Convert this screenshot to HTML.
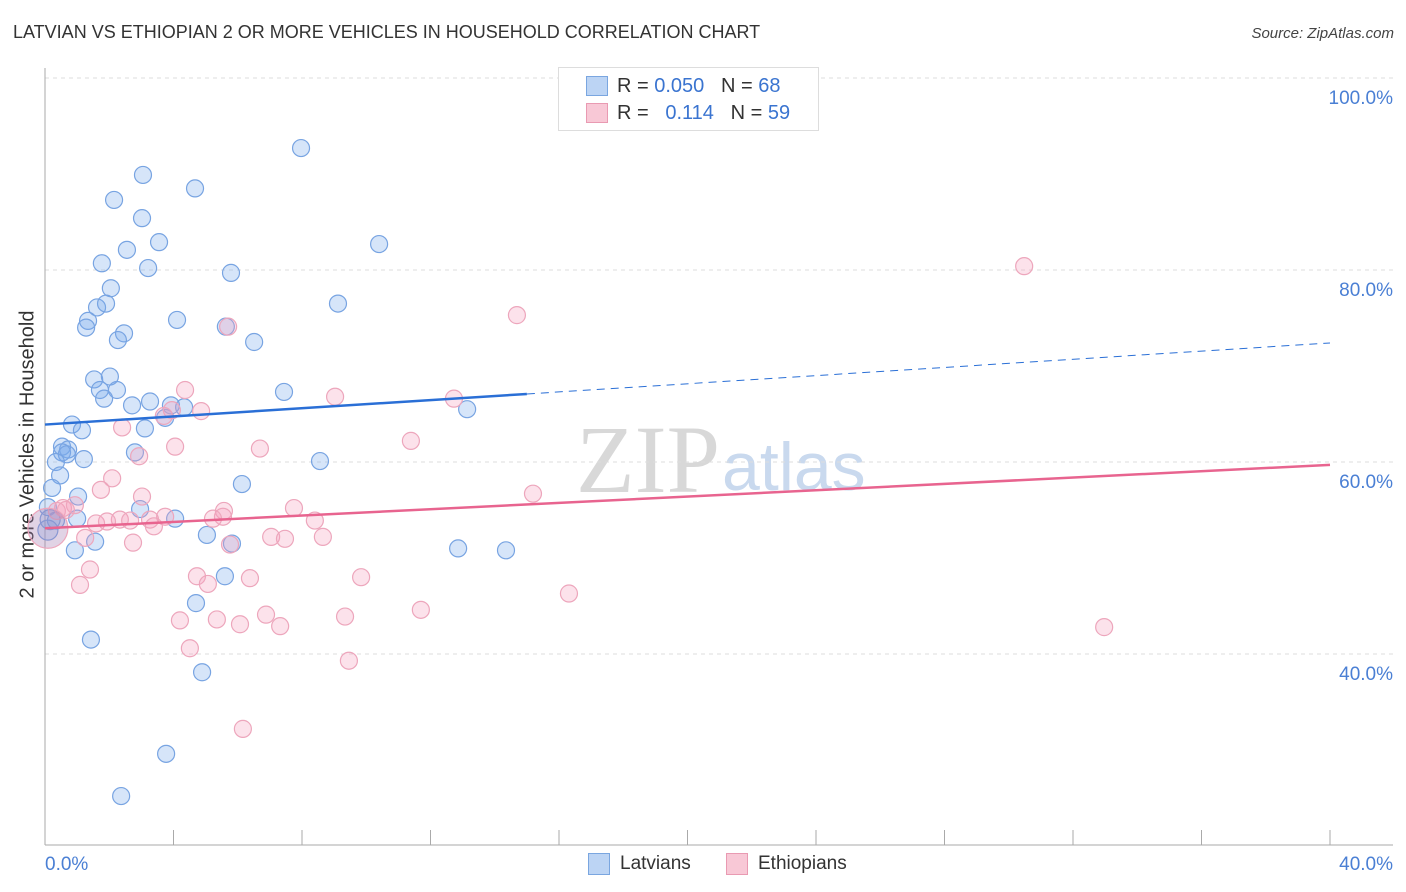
<!DOCTYPE html>
<html><head><meta charset="utf-8"><style>
body{margin:0;background:#fff;font-family:"Liberation Sans",sans-serif;}
#wrap{position:relative;width:1406px;height:892px;overflow:hidden;}
.t{position:absolute;white-space:nowrap;}
</style></head><body><div id="wrap">
<div class="t" style="left:13px;top:22px;font-size:18px;color:#333;">LATVIAN VS ETHIOPIAN 2 OR MORE VEHICLES IN HOUSEHOLD CORRELATION CHART</div>
<div class="t" style="right:12px;top:25px;font-size:15px;color:#444;font-style:italic;">Source: ZipAtlas.com</div>
<div class="t" style="left:-122px;top:443px;font-size:20px;color:#333;transform:rotate(-90deg);width:300px;text-align:center;">2 or more Vehicles in Household</div>
<svg id="plot" width="1406" height="892" style="position:absolute;left:0;top:0">
<text x="720" y="492" font-size="96" font-family="Liberation Serif" fill="#d8d8d8" text-anchor="end">ZIP</text>
<text x="722" y="490" font-size="68" font-family="Liberation Sans" fill="#c9d9ee">atlas</text>
</svg>
<div style="position:absolute;left:558px;top:67px;width:259px;height:62px;border:1px solid #ddd;background:#fff;">
<div style="position:absolute;left:27px;top:8px;width:20px;height:18px;background:#bcd4f4;border:1px solid #7aa6e0;"></div>
<div class="t" style="left:58px;top:7px;font-size:20px;color:#333;">R = <span style="color:#3a74d0">0.050</span>&nbsp;&nbsp;&nbsp;N = <span style="color:#3a74d0">68</span></div>
<div style="position:absolute;left:27px;top:35px;width:20px;height:18px;background:#f8c8d6;border:1px solid #e99ab2;"></div>
<div class="t" style="left:58px;top:34px;font-size:20px;color:#333;">R = &nbsp;&nbsp;<span style="color:#3a74d0">0.114</span>&nbsp;&nbsp;&nbsp;N = <span style="color:#3a74d0">59</span></div>
</div>
<div style="position:absolute;left:588px;top:853px;width:20px;height:20px;background:#bcd4f4;border:1px solid #7aa6e0;"></div>
<div class="t" style="left:620px;top:853px;font-size:19px;color:#333;">Latvians</div>
<div style="position:absolute;left:726px;top:853px;width:20px;height:20px;background:#f8c8d6;border:1px solid #e99ab2;"></div>
<div class="t" style="left:758px;top:853px;font-size:19px;color:#333;">Ethiopians</div>
</div>
<script>
const yTicks=[40,60,80,100];
const yTickLabels=["40.0%","60.0%","80.0%","100.0%"];
const xTickCount=10;
const blueX=[7.97,3.05,4.67,2.15,3.02,3.55,10.40,2.55,1.77,3.21,5.79,2.05,1.62,1.90,9.12,4.11,1.34,1.28,5.63,2.46,2.27,6.51,1.53,2.02,1.71,2.24,1.84,7.44,2.71,3.27,3.92,4.33,3.74,13.14,0.84,1.15,3.11,0.53,0.72,0.53,0.68,2.80,1.21,0.34,8.56,0.47,6.13,0.22,1.03,2.96,0.09,1.00,4.05,0.34,1.56,5.04,5.82,0.93,12.86,14.35,5.60,4.70,1.43,4.89,3.77,2.37,0.09,0.16];
const blueY=[92.7,89.9,88.5,87.3,85.4,82.9,82.7,82.1,80.7,80.2,79.7,78.1,76.1,76.5,76.5,74.8,74.7,74.0,74.1,73.4,72.7,72.5,68.6,68.9,67.5,67.5,66.6,67.3,65.9,66.3,65.9,65.7,64.6,65.5,63.9,63.3,63.5,61.6,61.3,61.0,60.8,61.0,60.3,60.0,60.1,58.6,57.7,57.3,56.4,55.1,55.3,54.1,54.1,53.9,51.7,52.4,51.5,50.8,51.0,50.8,48.1,45.3,41.5,38.1,29.6,25.2,52.9,54.0];
const pinkX=[30.48,14.69,5.70,4.36,9.03,12.73,4.86,2.40,3.95,3.70,11.39,4.05,6.69,2.93,2.09,1.74,15.19,3.02,0.56,0.37,0.93,0.65,7.75,5.57,3.74,5.54,2.33,1.59,1.93,2.65,3.27,3.39,5.23,8.40,7.04,7.47,8.65,5.76,2.74,1.25,1.40,1.09,4.73,6.38,5.07,9.84,16.31,11.70,4.20,5.35,6.07,6.88,7.32,9.34,32.97,4.51,9.46,6.16,0.09];
const pinkY=[80.4,75.3,74.1,67.5,66.8,66.6,65.3,63.6,65.4,64.8,62.2,61.6,61.4,60.6,58.3,57.1,56.7,56.4,55.2,54.9,55.5,55.0,55.2,54.9,54.3,54.3,54.0,53.6,53.8,53.9,54.0,53.3,54.1,53.9,52.2,52.0,52.2,51.4,51.6,52.1,48.8,47.2,48.1,47.9,47.3,48.0,46.3,44.6,43.5,43.6,43.1,44.1,42.9,43.9,42.8,40.6,39.3,32.2,53.1];
const blueTrend=[63.9,72.4];
const blueSolidEnd=15.0;
const pinkTrend=[53.1,59.7];
const xMax=40;

const X0=45,X1=1330,YB=845;
const xs=v=>X0+(v/xMax)*(X1-X0);
const ys=v=>78+(100-v)*9.6;
const svg=document.getElementById('plot');
const NS='http://www.w3.org/2000/svg';
function mk(tag,attrs){const e=document.createElementNS(NS,tag);for(const k in attrs)e.setAttribute(k,attrs[k]);svg.appendChild(e);return e;}
yTicks.forEach((t,i)=>{
 const g=mk('line',{x1:X0,x2:1393,y1:ys(t),y2:ys(t),stroke:'#ddd','stroke-dasharray':'4,4'});
 
 
 const l=mk('text',{x:1393,y:ys(t)+26,'text-anchor':'end','font-size':19,fill:'#4a7fd4'});
 l.textContent=yTickLabels[i];
 
 
});
let ax=mk('line',{x1:X0,x2:X0,y1:68,y2:YB,stroke:'#aaa'});


let bx=mk('line',{x1:X0,x2:1393,y1:YB,y2:YB,stroke:'#aaa'});


for(let i=0;i<=xTickCount;i++){
 const x=X0+i*(X1-X0)/xTickCount;
 const tk=mk('line',{x1:x,x2:x,y1:830,y2:YB,stroke:'#aaa'});
 
 
}
let xl0=mk('text',{x:45,y:870,'font-size':19,fill:'#4a7fd4'});xl0.textContent='0.0%';


let xl1=mk('text',{x:1393,y:870,'font-size':19,fill:'#4a7fd4','text-anchor':'end'});xl1.textContent='40.0%';


blueX.forEach((v,i)=>{
 const c=mk('circle',{cx:xs(v),cy:ys(blueY[i]),r:(i>=blueX.length-2)?10:8.5,fill:'rgba(120,170,235,0.3)',stroke:'#78a4e2','stroke-width':1.2});
 
 
});
pinkX.forEach((v,i)=>{
 const big=i===pinkX.length-1;
 const c=mk('circle',{cx:xs(v),cy:ys(pinkY[i]),r:big?20:8.5,fill:big?'rgba(170,130,180,0.35)':'rgba(245,160,190,0.3)',stroke:'#eda6bc','stroke-width':1.2});
 
 
});
const bAt=v=>blueTrend[0]+(blueTrend[1]-blueTrend[0])*v/xMax;
let bl=mk('line',{x1:xs(0),y1:ys(blueTrend[0]),x2:xs(blueSolidEnd),y2:ys(bAt(blueSolidEnd)),stroke:'#2a6fd6','stroke-width':2.5});


let bd=mk('line',{x1:xs(blueSolidEnd),y1:ys(bAt(blueSolidEnd)),x2:xs(xMax),y2:ys(blueTrend[1]),stroke:'#2a6fd6','stroke-width':1,'stroke-dasharray':'8,6'});


let pl=mk('line',{x1:xs(0),y1:ys(pinkTrend[0]),x2:xs(xMax),y2:ys(pinkTrend[1]),stroke:'#e8648f','stroke-width':2.5});


</script>
</body></html>
